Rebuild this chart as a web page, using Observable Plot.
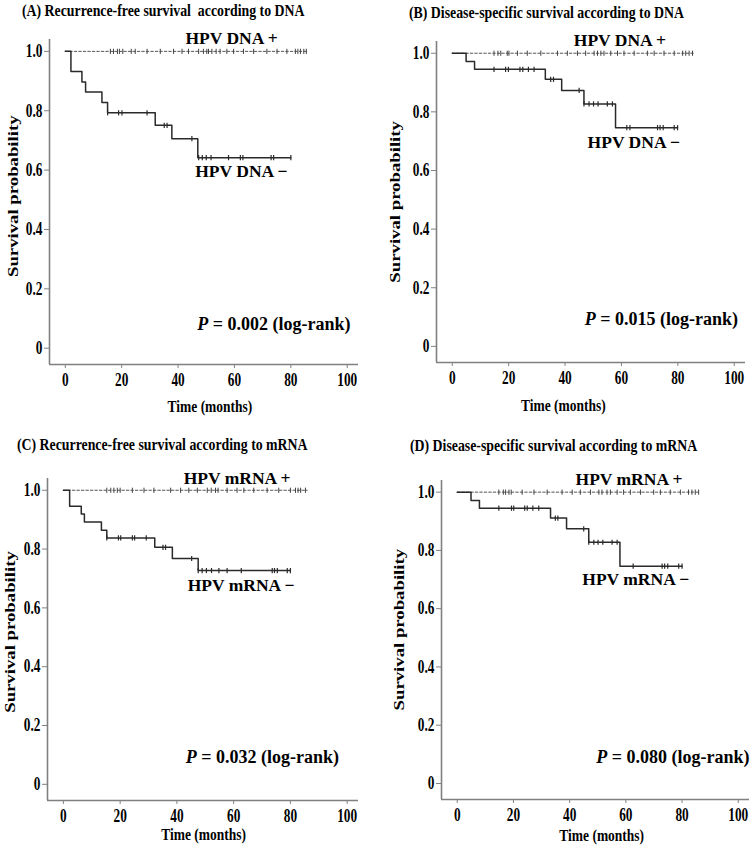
<!DOCTYPE html>
<html>
<head>
<meta charset="utf-8">
<script src="https://cdn.jsdelivr.net/npm/d3@7"></script>
<script src="https://cdn.jsdelivr.net/npm/@observablehq/plot@0.6"></script>
<style>
  html, body { margin: 0; padding: 0; background: #fff; }
  #fig { position: relative; width: 750px; height: 850px; overflow: hidden; background: #fff;
         font-family: "Liberation Serif", "Times New Roman", serif; }
  .title { position: absolute; font-weight: bold; font-size: 16px; line-height: 16px; white-space: pre;
           color: #000; transform-origin: 0 0; transform: scaleX(0.863); }
  .panel { position: absolute; }
</style>
</head>
<body>
<div id="fig"></div>
<script>
// ---------- shared labels / ticks ----------
const xTicks = [0, 20, 40, 60, 80, 100];
const yTicks = [0, 0.2, 0.4, 0.6, 0.8, 1.0];
const yTickLabels = ["0", "0.2", "0.4", "0.6", "0.8", "1.0"];
const xAxisTitle = "Time (months)";
const yAxisTitle = "Survival probability";
const panelTitles = [
  "(A) Recurrence-free survival  according to DNA",
  "(B) Disease-specific survival according to DNA",
  "(C) Recurrence-free survival according to mRNA",
  "(D) Disease-specific survival according to mRNA"
];
const posLabels = ["HPV DNA +", "HPV DNA +", "HPV mRNA +", "HPV mRNA +"];
const negLabels = ["HPV DNA \u2212", "HPV DNA \u2212", "HPV mRNA \u2212", "HPV mRNA \u2212"];
const pValues = ["0.002", "0.015", "0.032", "0.080"];

// ---------- (A) recurrence-free survival, DNA ----------
const aNegTime = [0, 2.0, 5.9, 7.2, 13.0, 15.0, 31.9, 37.8, 47.0, 80.0];
const aNegSurv = [1, 0.932, 0.897, 0.863, 0.828, 0.793, 0.751, 0.706, 0.642, 0.642];
const aNegCensor = [15.0, 18.9, 20.1, 29.0, 35.1, 36.1, 44.9, 47.3, 48.6, 50.0, 51.7, 57.9, 62.1, 63.0, 73.0, 73.9, 80.0];
const aPosEnd = 85.8;
const aPosCensor = [16.0, 17.1, 18.5, 19.2, 20.4, 23.4, 24.8, 29.0, 33.7, 38.4, 41.4, 43.7, 47.3, 49.0, 50.2, 50.8, 52.0, 53.5, 54.9, 57.3, 59.7, 63.2, 66.8, 71.5, 75.1, 78.6, 81.6, 82.5, 83.4, 84.6, 85.5];

// ---------- (B) disease-specific survival, DNA ----------
const bNegTime = [0, 4.9, 7.9, 33.0, 38.8, 46.7, 57.9, 79.9];
const bNegSurv = [1, 0.972, 0.945, 0.911, 0.873, 0.827, 0.746, 0.746];
const bNegCensor = [14.8, 18.9, 19.9, 24.0, 25.0, 27.0, 29.0, 34.9, 35.9, 45.0, 46.7, 48.5, 50.1, 51.7, 55.0, 56.8, 61.9, 63.0, 72.8, 73.7, 74.8, 78.7, 79.9];
const bPosEnd = 85.8;
const bPosCensor = [14.8, 16.2, 17.2, 19.5, 20.1, 23.1, 26.6, 31.4, 37.3, 40.8, 44.4, 47.3, 50.3, 51.5, 52.7, 53.8, 56.2, 58.6, 60.9, 64.5, 69.2, 71.6, 75.1, 78.7, 81.7, 82.8, 84.0, 85.2];

// ---------- (C) recurrence-free survival, mRNA ----------
const cNegTime = [0, 2.2, 6.3, 7.4, 13.4, 15.3, 32.2, 38.4, 47.5, 80.0];
const cNegSurv = [1, 0.946, 0.919, 0.892, 0.864, 0.838, 0.806, 0.768, 0.727, 0.727];
const cNegCensor = [15.3, 19.4, 20.2, 24.3, 25.1, 29.2, 35.1, 36.0, 45.2, 47.5, 48.9, 50.4, 52.2, 54.8, 57.7, 62.7, 73.6, 74.4, 75.4, 78.9, 80.0];
const cPosEnd = 85.9;
const cPosCensor = [15.3, 16.7, 17.8, 19.0, 20.0, 24.3, 28.4, 31.9, 37.8, 41.3, 44.2, 47.2, 50.7, 52.1, 53.6, 54.5, 57.7, 61.2, 63.6, 67.1, 71.8, 75.9, 80.0, 81.8, 82.7, 83.6, 85.3];

// ---------- (D) disease-specific survival, mRNA ----------
const dNegTime = [0, 4.9, 7.9, 33.2, 38.9, 46.8, 57.9, 80.0];
const dNegSurv = [1, 0.971, 0.945, 0.911, 0.874, 0.828, 0.746, 0.746];
const dNegCensor = [14.8, 19.3, 20.1, 24.0, 24.9, 26.9, 29.0, 34.9, 35.8, 45.0, 46.8, 48.6, 50.1, 51.8, 55.1, 56.9, 62.6, 72.9, 73.8, 74.9, 78.8, 80.0];
const dPosEnd = 86.0;
const dPosCensor = [14.8, 16.4, 17.2, 18.4, 19.2, 23.1, 27.3, 32.0, 37.3, 40.9, 43.8, 47.4, 50.4, 51.5, 53.3, 54.5, 56.9, 59.2, 61.6, 65.2, 69.9, 72.3, 75.8, 79.4, 82.3, 83.5, 84.7, 85.9];

// ---------- scale extents ----------
const xDomain = [-5.6, 104];
const yDomain = [-0.055, 1.04];

const panelData = [
  {negTime: aNegTime, negSurv: aNegSurv, negCensor: aNegCensor, posEnd: aPosEnd, posCensor: aPosCensor},
  {negTime: bNegTime, negSurv: bNegSurv, negCensor: bNegCensor, posEnd: bPosEnd, posCensor: bPosCensor},
  {negTime: cNegTime, negSurv: cNegSurv, negCensor: cNegCensor, posEnd: cPosEnd, posCensor: cPosCensor},
  {negTime: dNegTime, negSurv: dNegSurv, negCensor: dNegCensor, posEnd: dPosEnd, posCensor: dPosCensor}
];

// layout (pixels / annotation anchors)
const panelLayout = [
  {left: 0,   top: 0,   mL: 49, mR: 17, mT: 39, mB: 61, tx: 22,  ty: 3.3,
   posAt: [42.6, 1.026], negAt: [46.1, 0.576], pAt: [46.8, 0.062], timeX: 51.3, timeDy: 47, ylabY: 0.512, ylabDx: -36.5},
  {left: 375, top: 0,   mL: 61, mR: 5,  mT: 41, mB: 63, tx: 409, ty: 4.9,
   posAt: [43.1, 1.026], negAt: [48.0, 0.678], pAt: [47.0, 0.072], timeX: 39.4, timeDy: 48, ylabY: 0.493, ylabDx: -41},
  {left: 0,   top: 425, mL: 47, mR: 17, mT: 53, mB: 50, tx: 17,  ty: 437.3,
   posAt: [42.4, 1.021], negAt: [43.8, 0.657], pAt: [43.1, 0.072], timeX: 49.4, timeDy: 39.5, ylabY: 0.518, ylabDx: -37.5},
  {left: 375, top: 425, mL: 66, mR: 1,  mT: 55, mB: 51, tx: 410, ty: 437.6,
   posAt: [42.1, 1.023], negAt: [44.5, 0.683], pAt: [49.5, 0.071], timeX: 51.4, timeDy: 41, ylabY: 0.528, ylabDx: -42}
];

const censorTick = {draw(ctx) { ctx.moveTo(0, -2.6); ctx.lineTo(0, 2.6); }};

function survAt(times, surv, t) {
  let s = surv[0];
  for (let i = 0; i < times.length; i++) if (times[i] <= t) s = surv[i];
  return s;
}

const fig = document.getElementById("fig");
const axisGray = "#808080";

panelData.forEach((d, k) => {
  const L = panelLayout[k];
  const negLine = d.negTime.map((t, i) => ({t, s: d.negSurv[i]}));
  const posLine = [{t: 0, s: 1}, {t: d.posEnd, s: 1}];
  const negCens = d.negCensor.map(t => ({t, s: survAt(d.negTime, d.negSurv, t)}));
  const posCens = d.posCensor.map(t => ({t, s: 1}));

  const title = document.createElement("div");
  title.className = "title";
  title.style.left = L.tx + "px";
  title.style.top = L.ty + "px";
  title.textContent = panelTitles[k];
  fig.appendChild(title);

  const svg = Plot.plot({
    width: 375, height: 425,
    marginLeft: L.mL, marginRight: L.mR, marginTop: L.mT, marginBottom: L.mB,
    style: {fontFamily: '"Liberation Serif", "Times New Roman", serif', fontWeight: "bold",
            fontSize: "18px", color: "#000", background: "transparent", overflow: "visible"},
    x: {domain: xDomain},
    y: {domain: yDomain},
    marks: [
      Plot.ruleX([xDomain[0]], {stroke: axisGray, strokeWidth: 1.6}),
      Plot.ruleY([yDomain[0]], {stroke: axisGray, strokeWidth: 1.6}),
      Plot.axisX(xTicks, {tickSize: 4, tickPadding: 5, stroke: axisGray, fill: "#000", fontSize: 18, label: null}),
      Plot.axisY(yTicks, {tickSize: 5, tickPadding: 2, stroke: axisGray, fill: "#000", fontSize: 18, label: null,
                          tickFormat: v => yTickLabels[yTicks.indexOf(v)]}),
      Plot.line(posLine, {x: "t", y: "s", stroke: "#555", strokeWidth: 1, strokeDasharray: "2.5,2"}),
      Plot.dot(posCens, {x: "t", y: "s", symbol: censorTick, stroke: "#444", fill: "none", strokeWidth: 1}),
      Plot.line(negLine, {x: "t", y: "s", curve: "step-after", stroke: "#2a2a2a", strokeWidth: 1.5}),
      Plot.dot(negCens, {x: "t", y: "s", symbol: censorTick, stroke: "#2a2a2a", fill: "none", strokeWidth: 1.2}),
      Plot.text([posLabels[k]], {x: [L.posAt[0]], y: [L.posAt[1]], text: v => v, textAnchor: "start", lineAnchor: "bottom", fontSize: 17.5, fill: "#000"}),
      Plot.text([negLabels[k]], {x: [L.negAt[0]], y: [L.negAt[1]], text: v => v, textAnchor: "start", lineAnchor: "bottom", fontSize: 17.5, fill: "#000"}),
      Plot.text(["P = " + pValues[k] + " (log-rank)"], {x: [L.pAt[0]], y: [L.pAt[1]], text: v => v, textAnchor: "start", lineAnchor: "bottom", fontSize: 18, fill: "#000"}),
      Plot.text([xAxisTitle], {x: [L.timeX], frameAnchor: "bottom", dy: L.timeDy, text: v => v, textAnchor: "middle", lineAnchor: "bottom", fontSize: 17.5, fill: "#000"}),
      Plot.text([yAxisTitle], {y: [L.ylabY], frameAnchor: "left", dx: L.ylabDx, rotate: -90, text: v => v, textAnchor: "middle", lineAnchor: "middle", fontSize: 18.75, fill: "#000"})
    ]
  });

  // condensed look of the original figure's axis text
  svg.querySelectorAll('g[aria-label="x-axis tick label"] text, g[aria-label="y-axis tick label"] text').forEach(t => {
    t.setAttribute("transform", (t.getAttribute("transform") || "") + " scale(0.74,1)");
  });
  svg.querySelectorAll("text").forEach(t => {
    const s = t.textContent;
    if (s === xAxisTitle) t.setAttribute("transform", (t.getAttribute("transform") || "") + " scale(0.77,1)");
    else if (s === yAxisTitle) t.setAttribute("transform", (t.getAttribute("transform") || "") + " scale(1,0.75)");
    else if (s.startsWith("P = ")) {
      const rest = s.slice(1);
      t.textContent = "";
      const ts = document.createElementNS("http://www.w3.org/2000/svg", "tspan");
      ts.setAttribute("font-style", "italic");
      ts.textContent = "P";
      t.appendChild(ts);
      t.appendChild(document.createTextNode(rest));
    }
  });

  const wrap = document.createElement("div");
  wrap.className = "panel";
  wrap.style.left = L.left + "px";
  wrap.style.top = L.top + "px";
  wrap.appendChild(svg);
  fig.appendChild(wrap);
});
</script>
</body>
</html>
